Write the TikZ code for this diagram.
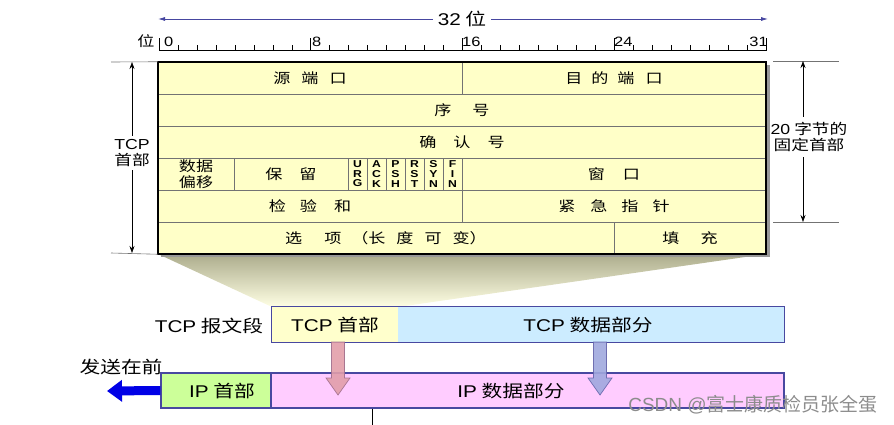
\documentclass[tikz,border=0pt]{standalone}
\usepackage{fontspec}
\setmainfont{Noto Sans CJK SC}[FakeStretch=1.22]
\newfontfamily\lat{Liberation Sans}[FakeStretch=1.22]
\newfontfamily\wmcjk{Noto Sans CJK SC}
\newfontfamily\wmlat{Liberation Sans}
\usetikzlibrary{arrows.meta,calc}
\definecolor{tabyel}{RGB}{255,255,200}
\definecolor{segborder}{RGB}{72,72,160}
\definecolor{tcpyel}{RGB}{255,255,204}
\definecolor{tcpblue}{RGB}{204,236,255}
\definecolor{ipgreen}{RGB}{204,255,153}
\definecolor{ippink}{RGB}{255,204,255}
\definecolor{topblue}{RGB}{70,70,160}
\definecolor{sendblue}{RGB}{0,0,230}
\definecolor{redfill}{RGB}{226,158,170}
\definecolor{redline}{RGB}{160,110,140}
\definecolor{bluefill}{RGB}{160,168,222}
\definecolor{blueline}{RGB}{100,100,170}
\begin{document}
\begin{tikzpicture}[x=1pt,y=-1pt,
  cell/.style={draw=black!55, line width=0.5pt, fill=tabyel, minimum height=32pt,
    inner sep=0pt, font=\fontsize{14}{16}\selectfont, align=center},
  flag/.style={cell, minimum width=19pt, font=\lat\fontsize{10}{9.6}\selectfont\bfseries},
  lbl/.style={inner sep=0pt, font=\fontsize{17}{20}\selectfont},
  numlbl/.style={inner sep=0pt, font=\lat\fontsize{13.5}{15}\selectfont},
  dimtxt/.style={inner sep=3pt, align=center, font=\fontsize{14.5}{16.5}\selectfont},
  seg/.style={draw=segborder, line width=1.1pt, minimum height=35pt, inner sep=0pt},
  dimtip/.style={-{Stealth[length=7pt,width=5pt]}, line width=0.6pt},
  fatdown/.style={line width=0.7pt, opacity=0.9}
]
\useasboundingbox (0,0) rectangle (894,425);

% ---- 32 bit arrow ----
\node[lbl] (w32) at (462,19) {{\lat 32} 位};
\coordinate (w32l) at (158,19);
\coordinate (w32r) at (768,19);
\draw[topblue, line width=0.8pt, -{Latex[length=7pt,width=4pt]}] ([xshift=-5pt]w32.west) -- (w32l);
\draw[topblue, line width=0.8pt, -{Latex[length=7pt,width=4pt]}] ([xshift=5pt]w32.east) -- (w32r);

% ---- ruler ----
\draw[line width=0.6pt] (159,50) -- (767,50);
\foreach \i in {0,...,32}{
  \pgfmathsetmacro{\xx}{159+18.97*\i}
  \pgfmathtruncatemacro{\md}{mod(\i,8)}
  \ifnum\md=0
    \draw[line width=0.6pt] (\xx,50) -- (\xx,38);
  \else
    \draw[line width=0.5pt] (\xx,50) -- (\xx,45);
  \fi
}
\node[inner sep=0pt, font=\fontsize{14}{15}\selectfont] (bitw) at (146,41) {位};
\node[numlbl, anchor=south west] (b0) at (164,47) {0};
\node[numlbl, anchor=south west] (b8) at (312,47) {8};
\node[numlbl, anchor=south west] (b16) at (462,47) {16};
\node[numlbl, anchor=south west] (b24) at (614,47) {24};
\node[numlbl, anchor=south east] (b31) at (768,47) {31};

% ---- funnel shading ----
\shade[top color={rgb,255:red,172;green,172;blue,140}, middle color={rgb,255:red,238;green,238;blue,196},
  bottom color={rgb,255:red,255;green,255;blue,228}]
  (158,254) -- (766,254) -- (398,307) -- (272,307) -- cycle;

% ---- table shadow ----
\fill[black!40] (161,65) rectangle (770,257);

% ---- table cells ----
\node[cell, minimum width=304pt] (src) at (310,78) {源\hspace{11pt}端\hspace{11pt}口};
\node[cell, minimum width=304pt] (dst) at (614,78) {目\hspace{9pt}的\hspace{9pt}端\hspace{11pt}口};
\node[cell, minimum width=608pt] (seq) at (462,110) {序\hspace{21pt}号};
\node[cell, minimum width=608pt] (ackn) at (462,142) {确\hspace{17pt}认\hspace{17pt}号};
\node[cell, minimum width=76pt, font=\fontsize{14}{15.5}\selectfont] (doff) at (196,174) {数据\\偏移};
\node[cell, minimum width=114pt] (rsv) at (291,174) {保\hspace{17pt}留};
\node[flag] (furg) at (357.5,174) {U\\R\\G};
\node[flag] (fack) at (376.5,174) {A\\C\\K};
\node[flag] (fpsh) at (395.5,174) {P\\S\\H};
\node[flag] (frst) at (414.5,174) {R\\S\\T};
\node[flag] (fsyn) at (433.5,174) {S\\Y\\N};
\node[flag] (ffin) at (452.5,174) {F\\I\\N};
\node[cell, minimum width=304pt] (win) at (614,174) {窗\hspace{18pt}口};
\node[cell, minimum width=304pt] (cks) at (310,206) {检\hspace{14pt}验\hspace{17pt}和};
\node[cell, minimum width=304pt] (uptr) at (614,206) {紧\hspace{15pt}急\hspace{14pt}指\hspace{14pt}针};
\node[cell, minimum width=456pt] (opt) at (386,238) {选\hspace{22pt}项\hspace{10pt}（长\hspace{11pt}度\hspace{11pt}可\hspace{11pt}变）};
\node[cell, minimum width=152pt] (pad) at (690,238) {填\hspace{21pt}充};
\draw[line width=1.6pt] (src.north west) rectangle (pad.south east);

% ---- left dimension ----
\coordinate (lt) at (132,62);
\coordinate (lb) at (132,253);
\draw[black!55, line width=0.6pt] (111,62) -- (src.north west);
\draw[black!55, line width=0.6pt] (111,253) -- (opt.south west);
\node[dimtxt] (tcphdr) at (132,153) {\lat TCP\\首部};
\draw[dimtip] (tcphdr.north) -- (lt);
\draw[dimtip] (tcphdr.south) -- (lb);

% ---- right dimension ----
\coordinate (rt) at (803,61);
\coordinate (rb) at (803,222);
\draw[black!55, line width=0.6pt] (773,61) -- (839,61);
\draw[black!55, line width=0.6pt] (773,222) -- (839,222);
\node[dimtxt, inner sep=5pt] (fixed) at (809,137) {{\lat 20} 字节的\\固定首部};
\draw[dimtip] (fixed.north -| rt) -- (rt);
\draw[dimtip] (fixed.south -| rb) -- (rb);

% ---- TCP segment ----
\node[lbl] (seglbl) at (209,326) {{\lat TCP} 报文段};
\node[seg, draw=none, fill=tcpyel, minimum width=126pt] (tcph) at (335,324.5) {};
\node[seg, draw=none, fill=tcpblue, minimum width=386pt] (tcpd) at (591,324.5) {};
\draw[segborder, line width=1.1pt] (tcph.north west) rectangle (tcpd.south east);
\node[lbl] (tcphl) at (335,325) {{\lat TCP} 首部};
\node[lbl] (tcpdl) at (588,325) {{\lat TCP} 数据部分};

% ---- IP datagram ----
\node[seg, fill=ipgreen, minimum width=110pt] (iph) at (216,390.5) {};
\node[seg, fill=ippink, minimum width=513pt] (ipd) at (527.5,390.5) {};
\node[lbl] (iphl) at (222,391) {{\lat IP} 首部};
\node[lbl] (ipdl) at (511,391) {{\lat IP} 数据部分};

% ---- send-first arrow ----
\node[lbl] (sendl) at (121,367) {发送在前};
\coordinate (sendtip) at (107,391);
\draw[sendblue, line width=9pt, -{Triangle[length=15pt,width=21pt]}] (iph.west) -- (sendtip);

% ---- fat down arrows ----
\coordinate (ra) at (338,342);
\coordinate (rtip) at (338,395);
\filldraw[fatdown, fill=redfill, draw=redline]
  ($(ra)+(-6.5,0)$) -- ($(ra)+(6.5,0)$) -- ($(rtip)+(6.5,-17)$) -- ($(rtip)+(12,-17)$) -- (rtip)
  -- ($(rtip)+(-12,-17)$) -- ($(rtip)+(-6.5,-17)$) -- cycle;
\coordinate (ba) at (600,342);
\coordinate (btip) at (600,395);
\filldraw[fatdown, fill=bluefill, draw=blueline]
  ($(ba)+(-6.5,0)$) -- ($(ba)+(6.5,0)$) -- ($(btip)+(6.5,-17)$) -- ($(btip)+(12,-17)$) -- (btip)
  -- ($(btip)+(-12,-17)$) -- ($(btip)+(-6.5,-17)$) -- cycle;

% ---- small line below ----
\coordinate (bl) at (372,425);
\draw[line width=0.6pt] (bl |- ipd.south) -- (bl);

% ---- watermark ----
\node[inner sep=0pt, text=black!45, font=\wmcjk\fontsize{19}{22}\selectfont] (wm) at (753,405) {{\wmlat CSDN @}富士康质检员张全蛋};
\end{tikzpicture}
\end{document}
